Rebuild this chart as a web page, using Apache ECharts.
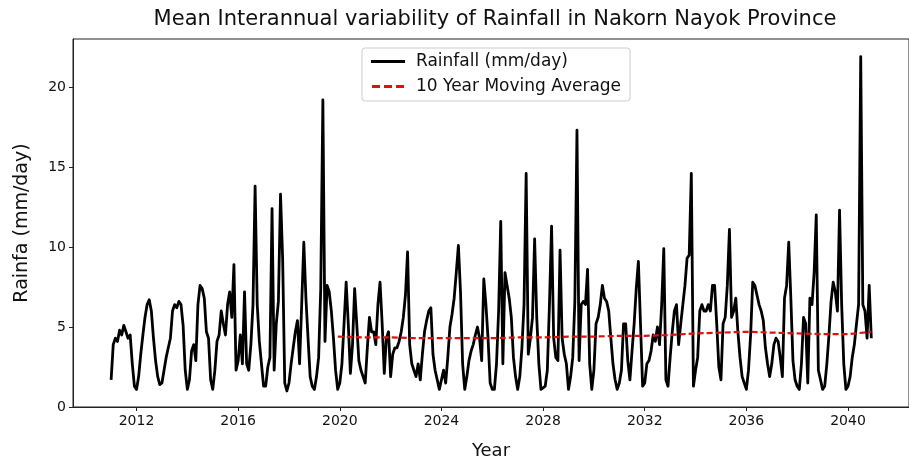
<!DOCTYPE html>
<html>
<head>
<meta charset="utf-8">
<script src="https://cdn.jsdelivr.net/npm/echarts@6/dist/echarts.min.js"></script>
<style>
  html, body { margin: 0; padding: 0; background: #fff; }
  #chart { width: 909px; height: 465px; }
</style>
</head>
<body>
<div id="chart"></div>
<script>
// Monthly mean rainfall (mm/day), January to December, one row per year
const rainfall2011to2020 = [
  1.7, 3.9, 4.3, 4.1, 4.8, 4.5, 5.1, 4.7, 4.3, 4.5, 2.7, 1.3,   // 2011
  1.1, 1.9, 3.3, 4.5, 5.6, 6.4, 6.7, 6.0, 4.3, 2.9, 1.9, 1.4,   // 2012
  1.5, 2.3, 3.1, 3.7, 4.3, 6.0, 6.4, 6.2, 6.6, 6.4, 5.1, 2.3,   // 2013
  1.1, 1.7, 3.5, 3.9, 2.9, 6.4, 7.6, 7.4, 6.8, 4.7, 4.3, 1.7,   // 2014
  1.1, 2.3, 4.1, 4.5, 6.0, 5.2, 4.5, 6.4, 7.2, 5.6, 8.9, 2.3,   // 2015
  2.9, 4.5, 2.7, 7.2, 2.7, 2.3, 3.9, 6.4, 13.8, 6.4, 4.1, 2.7,  // 2016
  1.3, 1.3, 2.5, 3.1, 12.4, 2.3, 5.2, 6.6, 13.3, 9.3, 1.5, 1.0, // 2017
  1.5, 2.7, 3.7, 4.7, 5.4, 2.7, 6.4, 10.3, 6.8, 4.3, 1.9, 1.3,  // 2018
  1.1, 1.9, 3.1, 7.4, 19.2, 4.1, 7.6, 7.2, 6.0, 4.3, 2.3, 1.1,  // 2019
  1.5, 2.7, 5.2, 7.8, 5.2, 2.1, 3.9, 7.4, 5.2, 2.9, 2.3, 1.9    // 2020
];
const rainfall2021to2030 = [
  1.5, 3.7, 5.6, 4.7, 4.7, 3.9, 6.4, 7.8, 5.2, 2.1, 4.3, 4.7,   // 2021
  1.9, 3.3, 3.7, 3.7, 4.1, 4.7, 5.6, 7.0, 9.7, 3.9, 2.7, 2.3,   // 2022
  1.9, 2.7, 1.7, 3.3, 4.7, 5.4, 6.0, 6.2, 3.3, 2.3, 1.7, 1.1,   // 2023
  1.7, 2.3, 1.5, 3.1, 5.0, 5.8, 6.8, 8.4, 10.1, 7.2, 2.7, 1.1,  // 2024
  1.9, 2.9, 3.5, 3.9, 4.5, 5.0, 4.3, 2.9, 8.0, 6.4, 4.3, 1.5,   // 2025
  1.1, 1.1, 2.7, 6.0, 11.6, 2.7, 8.4, 7.6, 6.8, 5.6, 3.1, 1.9,  // 2026
  1.1, 1.9, 3.7, 6.4, 14.6, 3.3, 4.3, 5.6, 10.5, 5.6, 2.7, 1.1, // 2027
  1.2, 1.3, 2.3, 6.4, 11.3, 4.3, 3.1, 2.9, 9.8, 4.3, 3.3, 2.7,  // 2028
  1.1, 1.9, 3.1, 6.6, 17.3, 2.9, 6.4, 6.6, 6.4, 8.6, 2.7, 1.1,  // 2029
  2.3, 5.2, 5.6, 6.4, 7.6, 6.8, 6.6, 6.0, 4.3, 2.7, 1.7, 1.1    // 2030
];
const rainfall2031to2040 = [
  1.5, 2.3, 5.2, 5.2, 2.9, 1.7, 3.5, 5.2, 7.4, 9.1, 5.2, 1.3,   // 2031
  1.5, 2.7, 2.9, 3.5, 4.5, 4.1, 5.0, 3.9, 6.4, 9.9, 1.7, 1.3,   // 2032
  3.1, 4.7, 6.0, 6.4, 3.9, 5.2, 6.4, 7.6, 9.3, 9.5, 14.6, 1.3,  // 2033
  2.3, 3.1, 6.0, 6.4, 6.0, 6.0, 6.4, 6.0, 7.6, 7.6, 5.2, 2.5,   // 2034
  1.7, 5.2, 5.6, 7.6, 11.1, 5.6, 6.0, 6.8, 4.7, 3.1, 1.9, 1.5,  // 2035
  1.1, 2.3, 4.5, 7.8, 7.6, 7.0, 6.4, 6.0, 5.4, 3.7, 2.7, 1.9,   // 2036
  2.7, 3.9, 4.3, 4.1, 3.1, 1.9, 6.8, 7.6, 10.3, 6.8, 2.9, 1.7,  // 2037
  1.3, 1.1, 2.7, 5.6, 5.2, 1.5, 6.8, 6.4, 8.4, 12.0, 2.3, 1.7,  // 2038
  1.1, 1.3, 2.7, 4.5, 6.6, 7.8, 7.2, 6.0, 12.3, 6.4, 2.7, 1.1,  // 2039
  1.3, 1.9, 3.1, 3.9, 5.2, 6.4, 21.9, 6.4, 6.0, 4.3, 7.6, 4.3   // 2040
];
const firstYear = 2011;

// 10-year moving average, sampled at the start of each year
const movingAvgYears  = [2019.92, 2021, 2022, 2023, 2024, 2025, 2026, 2027, 2028, 2029, 2030,
                         2031, 2032, 2033, 2034, 2035, 2036, 2037, 2038, 2039, 2040, 2040.92];
const movingAvgValues = [4.4, 4.35, 4.35, 4.3, 4.3, 4.3, 4.3, 4.35, 4.35, 4.4, 4.4,
                         4.45, 4.45, 4.5, 4.6, 4.65, 4.7, 4.65, 4.6, 4.55, 4.55, 4.7];

const yearTicks = [2012, 2016, 2020, 2024, 2028, 2032, 2036, 2040];
const rainTicks = [0, 5, 10, 15, 20];

const rainfall = rainfall2011to2020.concat(rainfall2021to2030, rainfall2031to2040);
const rainfallData = rainfall.map((v, i) => [firstYear + i / 12, v]);
const movingAvgData = movingAvgYears.map((y, i) => [y, movingAvgValues[i]]);

// legend keys: a solid bar and a three-dash bar
const solidKey  = 'path://M0,0H34V3H0Z';
const dashedKey = 'path://M0,0H8V3H0Z M12,0H20V3H12Z M24,0H32V3H24Z';

const font = 'DejaVu Sans';
const chart = echarts.init(document.getElementById('chart'), null, { renderer: 'canvas' });
chart.setOption({
  animation: false,
  backgroundColor: '#fff',
  title: {
    text: 'Mean Interannual variability of Rainfall in Nakorn Nayok Province',
    left: 490, top: 4, textAlign: 'center',
    textStyle: { fontFamily: font, fontSize: 21, fontWeight: 'normal', color: '#111' }
  },
  legend: {
    orient: 'vertical',
    left: 362, top: 48,
    padding: [5, 9, 6, 9],
    itemGap: 8,
    itemWidth: 34, itemHeight: 3,
    borderColor: '#ccc', borderWidth: 1, borderRadius: 3,
    backgroundColor: '#fff',
    textStyle: { fontFamily: font, fontSize: 17, lineHeight: 17, color: '#111', padding: [0, 0, 0, 6] },
    data: [
      { name: 'Rainfall (mm/day)', icon: solidKey },
      { name: '10 Year Moving Average', icon: dashedKey }
    ]
  },
  grid: {
    left: 73, right: -8, top: 39, bottom: 53,
    show: true, borderColor: '#222', borderWidth: 1, backgroundColor: 'transparent'
  },
  xAxis: {
    type: 'value',
    min: 2009.5, max: 2042.4,
    name: 'Year', nameLocation: 'middle', nameGap: 35,
    nameTextStyle: { fontFamily: font, fontSize: 18, color: '#111' },
    axisLine: { show: true, lineStyle: { color: '#222' } },
    axisTick: { show: true, length: 4, customValues: yearTicks, lineStyle: { color: '#222' } },
    axisLabel: {
      customValues: yearTicks, fontFamily: font, fontSize: 14, color: '#111', margin: 7,
      formatter: (v) => String(v)
    },
    splitLine: { show: false }
  },
  yAxis: {
    type: 'value',
    min: 0, max: 23,
    name: 'Rainfa (mm/day)', nameLocation: 'middle', nameGap: 41,
    nameTextStyle: { fontFamily: font, fontSize: 19, color: '#111' },
    axisLine: { show: true, lineStyle: { color: '#222' } },
    axisTick: { show: true, length: 4, customValues: rainTicks, lineStyle: { color: '#222' } },
    axisLabel: { customValues: rainTicks, fontFamily: font, fontSize: 14, color: '#111', margin: 7 },
    splitLine: { show: false }
  },
  series: [
    {
      name: 'Rainfall (mm/day)',
      type: 'line',
      data: rainfallData,
      symbol: 'none',
      lineStyle: { color: '#000', width: 2.8, join: 'round' },
      itemStyle: { color: '#000' },
      z: 2
    },
    {
      name: '10 Year Moving Average',
      type: 'line',
      data: movingAvgData,
      symbol: 'none',
      lineStyle: { color: '#e01010', width: 2.2, type: [6, 3] },
      itemStyle: { color: '#e01010' },
      z: 3
    }
  ]
});
</script>
</body>
</html>
